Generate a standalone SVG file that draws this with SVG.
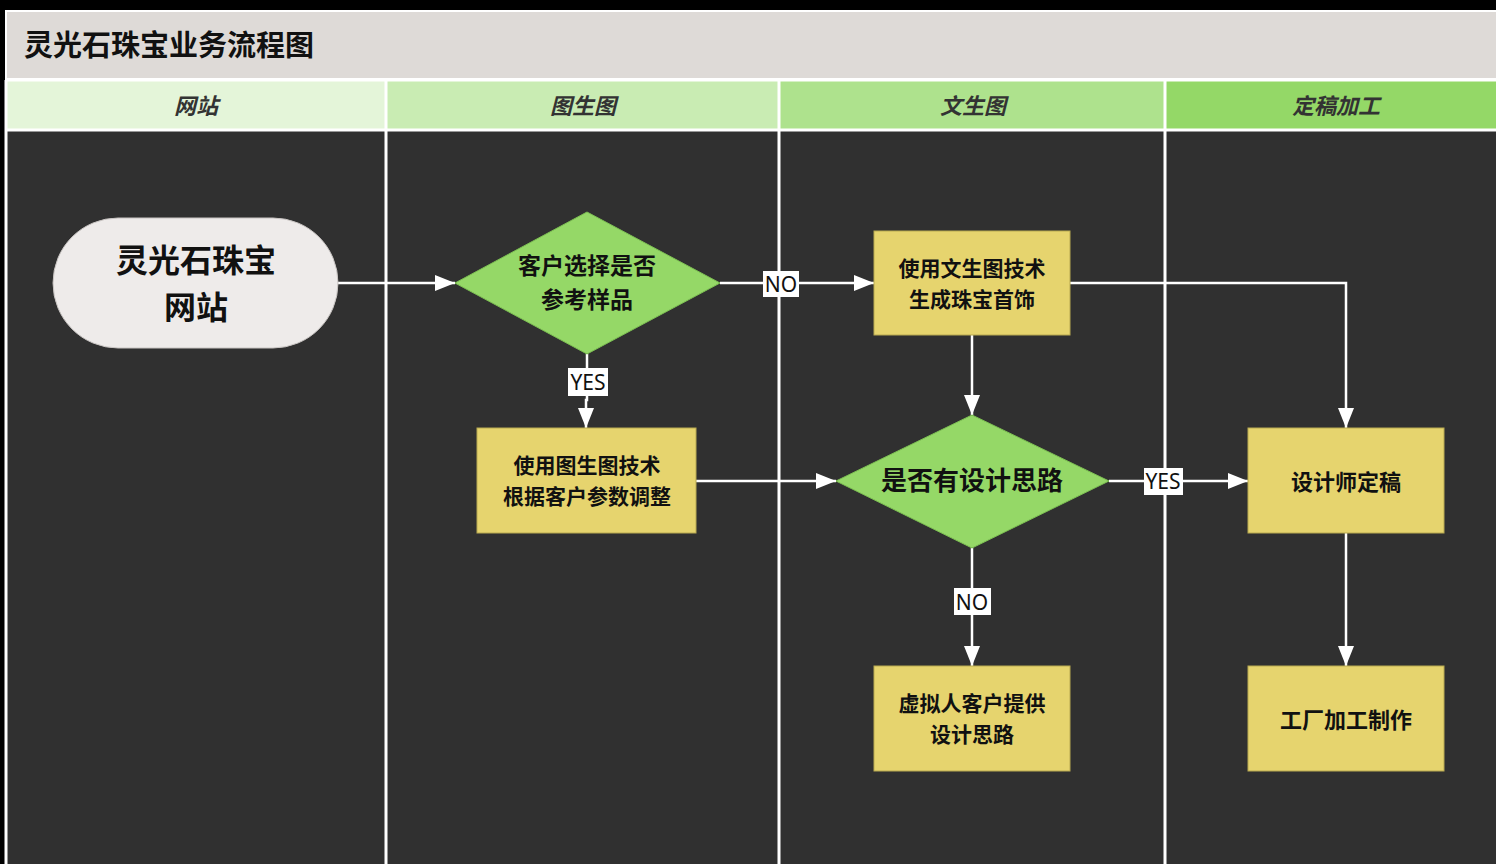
<svg xmlns="http://www.w3.org/2000/svg" width="1496" height="864" viewBox="0 0 1496 864">
<defs>
<style>
.cjk{font-family:"Noto Sans CJK SC","Noto Sans",sans-serif;font-weight:bold;text-anchor:middle;fill:#111}
.hdr{font-family:"Noto Sans CJK SC","Noto Sans",sans-serif;font-weight:bold;font-style:italic;font-size:22px;fill:#333;text-anchor:middle}
.proc{fill:#e6d46e;stroke:#b8a950;stroke-width:1}
.dia{fill:#95d867;stroke:#7cbf52;stroke-width:1}
.conn{stroke:#ffffff;stroke-width:2.5;fill:none}
.lblbg{fill:#ffffff}
.lbl{font-family:"Noto Sans","Open Sans",sans-serif;font-size:21px;fill:#111;text-anchor:middle}
.sep{stroke:#ffffff;stroke-width:3}
.t21{font-size:21px}
.t22{font-size:22px}
.t23{font-size:23px}
</style>
<marker id="arr" viewBox="0 0 20 16" refX="20" refY="8" markerWidth="20" markerHeight="16" markerUnits="userSpaceOnUse" orient="auto">
<path d="M0,0 L20,8 L0,16 Z" fill="#ffffff"/>
</marker>
</defs>
<rect x="0" y="0" width="1496" height="864" fill="#000000"/>
<g id="title">
<rect x="6" y="11" width="1492" height="68" fill="#dedad7" stroke="#ffffff" stroke-width="2"/>
<text x="24" y="56" class="cjk" style="text-anchor:start;font-size:29px">灵光石珠宝业务流程图</text>
</g>
<g id="lanes">
<rect x="6" y="131" width="1492" height="740" fill="#303030"/>
<rect x="6" y="81" width="379" height="49" fill="#e4f5d9"/>
<rect x="387" y="81" width="391" height="49" fill="#c9ecb3"/>
<rect x="780" y="81" width="384" height="49" fill="#aee28d"/>
<rect x="1166" y="81" width="332" height="49" fill="#94d867"/>
<line x1="6" y1="130" x2="1496" y2="130" class="sep"/>
<line x1="6" y1="80" x2="1496" y2="80" class="sep"/>
<line x1="6" y1="80" x2="6" y2="864" class="sep"/>
<line x1="386" y1="80" x2="386" y2="864" class="sep"/>
<line x1="779" y1="80" x2="779" y2="864" class="sep"/>
<line x1="1165" y1="80" x2="1165" y2="864" class="sep"/>
<text x="196" y="114" class="hdr">网站</text>
<text x="583" y="114" class="hdr">图生图</text>
<text x="973" y="114" class="hdr">文生图</text>
<text x="1336" y="114" class="hdr">定稿加工</text>
</g>
<g id="connectors">
<line x1="338" y1="283" x2="455" y2="283" class="conn" marker-end="url(#arr)"/>
<line x1="720" y1="283" x2="874" y2="283" class="conn" marker-end="url(#arr)"/>
<polyline points="587,354 587,400 586,400 586,428" class="conn" marker-end="url(#arr)"/>
<line x1="696" y1="481" x2="836" y2="481" class="conn" marker-end="url(#arr)"/>
<line x1="972" y1="335" x2="972" y2="415" class="conn" marker-end="url(#arr)"/>
<polyline points="1070,283 1346,283 1346,428" class="conn" marker-end="url(#arr)"/>
<line x1="1109" y1="481" x2="1248" y2="481" class="conn" marker-end="url(#arr)"/>
<line x1="972" y1="548" x2="972" y2="666" class="conn" marker-end="url(#arr)"/>
<line x1="1346" y1="533" x2="1346" y2="666" class="conn" marker-end="url(#arr)"/>
<rect x="763" y="271" width="36" height="26" class="lblbg"/>
<text x="781" y="292" class="lbl">NO</text>
<rect x="568" y="368" width="40" height="28" class="lblbg"/>
<text x="588" y="390" class="lbl">YES</text>
<rect x="1144" y="468" width="39" height="27" class="lblbg"/>
<text x="1163" y="489" class="lbl">YES</text>
<rect x="954" y="588" width="37" height="27" class="lblbg"/>
<text x="972" y="610" class="lbl">NO</text>
</g>
<g id="n-start">
<rect x="53" y="218" width="285" height="130" rx="65" ry="65" fill="#eeebea" stroke="#c8c4c2" stroke-width="1"/>
<text x="196" y="272" class="cjk" style="font-size:32px">灵光石珠宝</text>
<text x="196" y="319" class="cjk" style="font-size:32px">网站</text>
</g>
<g id="n-choose">
<polygon points="587,212 720,283 587,354 455,283" class="dia"/>
<text x="587" y="274" class="cjk t23">客户选择是否</text>
<text x="587" y="308" class="cjk t23">参考样品</text>
</g>
<g id="n-txt2img">
<rect x="874" y="231" width="196" height="104" class="proc"/>
<text x="972" y="276" class="cjk t21">使用文生图技术</text>
<text x="972" y="307" class="cjk t21">生成珠宝首饰</text>
</g>
<g id="n-img2img">
<rect x="477" y="428" width="219" height="105" class="proc"/>
<text x="587" y="473" class="cjk t21">使用图生图技术</text>
<text x="587" y="504" class="cjk t21">根据客户参数调整</text>
</g>
<g id="n-idea">
<polygon points="972,415 1109,481 972,548 836,481" class="dia"/>
<text x="972" y="490" class="cjk" style="font-size:26px">是否有设计思路</text>
</g>
<g id="n-designer">
<rect x="1248" y="428" width="196" height="105" class="proc"/>
<text x="1346" y="490" class="cjk t22">设计师定稿</text>
</g>
<g id="n-virtual">
<rect x="874" y="666" width="196" height="105" class="proc"/>
<text x="972" y="711" class="cjk t21">虚拟人客户提供</text>
<text x="972" y="742" class="cjk t21">设计思路</text>
</g>
<g id="n-factory">
<rect x="1248" y="666" width="196" height="105" class="proc"/>
<text x="1346" y="728" class="cjk t22">工厂加工制作</text>
</g>
</svg>
